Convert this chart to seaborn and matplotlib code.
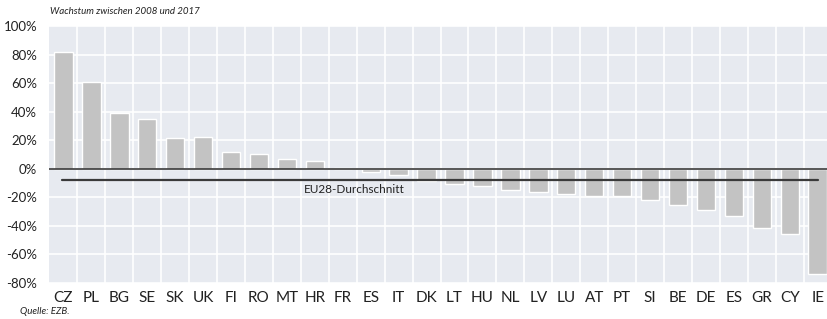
import matplotlib
matplotlib.use("Agg")
import matplotlib.pyplot as plt
import seaborn as sns
import pandas as pd
import numpy as np

countries = ["CZ", "PL", "BG", "SE", "SK", "UK", "FI", "RO", "MT", "HR", "FR", "ES", "IT", "DK",
             "LT", "HU", "NL", "LV", "LU", "AT", "PT", "SI", "BE", "DE", "ES", "GR", "CY", "IE"]
growth = [82.0, 60.7, 39.2, 35.0, 21.9, 22.0, 12.1, 10.7, 6.5, 5.6, 0.5, -2.3, -4.2, -8.9,
          -10.7, -12.1, -15.2, -16.3, -17.5, -19.1, -19.1, -21.7, -25.7, -29.2, -33.4, -41.3, -45.8, -73.8]
eu_avg = -7.7
y_ticks = [100, 80, 60, 40, 20, 0, -20, -40, -60, -80]

sns.set_style("white")
plt.rcParams['font.family'] = ['Lato', 'DejaVu Sans']

df = pd.DataFrame({"pos": [str(i) for i in range(len(countries))], "growth": growth})

fig = plt.figure(figsize=(8.28, 3.19), dpi=100)
ax = fig.add_axes([49.5 / 828, 1 - 283 / 319, 1 - 49.5 / 828, 257 / 319])
ax.set_facecolor("#e7eaf0")

sns.barplot(data=df, x="pos", y="growth", color="#c3c3c3", saturation=1, width=0.66, ax=ax)

ax.set_xlim(-0.5, 27.37)
ax.set_ylim(-80, 100)
ax.set_yticks(y_ticks)
ax.set_yticklabels([f"{v}%" for v in y_ticks], fontsize=9.5, color="#222222")
ax.set_xticks(range(len(countries)))
ax.set_xticklabels(countries, fontsize=11, color="#222222")
ax.tick_params(axis="both", length=0)
ax.tick_params(axis="y", pad=9)
ax.tick_params(axis="x", pad=6)
ax.set_xlabel("")
ax.set_ylabel("")

for v in y_ticks:
    ax.axhline(v, color="white", lw=1.2, zorder=0)
for i in range(len(countries)):
    ax.axvline(i + 0.5, color="white", lw=1.2, zorder=0)

ax.axhline(0, color="#3a3a3a", lw=1.2, zorder=3)
ax.plot([-0.04, 27.0], [eu_avg, eu_avg], color="#3a3a3a", lw=1.6, zorder=3)
ax.text(8.6, eu_avg - 6.5, "EU28-Durchschnitt", fontsize=8.5, color="#222222", ha="left", va="center", zorder=4)

for s in ax.spines.values():
    s.set_visible(False)

fig.text(50 / 828, 1 - 12 / 319, "Wachstum zwischen 2008 und 2017", fontsize=7, style="italic",
         color="#222222", ha="left", va="center")
fig.text(20 / 828, 1 - 311 / 319, "Quelle: EZB.", fontsize=7, style="italic",
         color="#222222", ha="left", va="center")

fig.savefig("out.png", dpi=100)
